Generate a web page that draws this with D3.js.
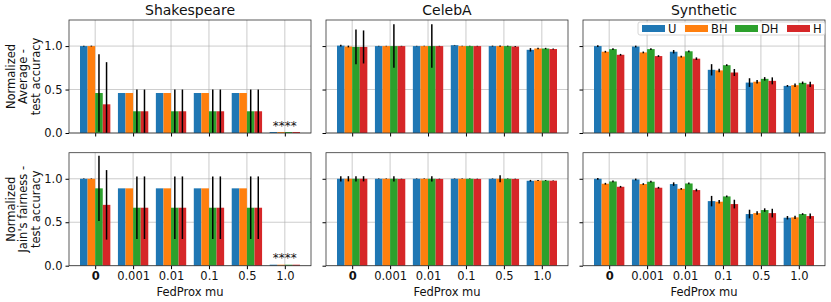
<!DOCTYPE html>
<html>
<head>
<meta charset="utf-8">
<script src="https://cdn.jsdelivr.net/npm/d3@7"></script>
<style>
  body { margin: 0; background: #fff; }
  text { font-family: "DejaVu Sans", sans-serif; fill: #111; }
</style>
</head>
<body>
<div class="chart"></div>
<script>
// categories and series
var mus = ["0", "0.001", "0.01", "0.1", "0.5", "1.0"];
var methods = ["U", "BH", "DH", "H"];
var colors = ["#1f77b4", "#ff7f0e", "#2ca02c", "#d62728"];
var datasets = ["Shakespeare", "CelebA", "Synthetic"];
var metrics = [["Normalized", "Average -", "test accuracy"], ["Normalized", "Jain's fairness -", "test accuracy"]];
var yTicks = [0, 0.5, 1.0];

// values[method][mu], errors[method][mu]
var shakAvg = [[1.0, 0.46, 0.46, 0.46, 0.46, 0], [1.0, 0.46, 0.46, 0.46, 0.46, 0], [0.46, 0.25, 0.25, 0.25, 0.25, 0], [0.33, 0.25, 0.25, 0.25, 0.25, 0]];
var shakAvgErr = [[0.005, 0, 0, 0, 0, 0], [0.005, 0, 0, 0, 0, 0], [0.445, 0.25, 0.25, 0.25, 0.25, 0], [0.485, 0.25, 0.25, 0.25, 0.25, 0]];
var shakJain = [[1.0, 0.89, 0.89, 0.89, 0.89, 0], [1.0, 0.89, 0.89, 0.89, 0.89, 0], [0.89, 0.667, 0.667, 0.667, 0.667, 0], [0.70, 0.667, 0.667, 0.667, 0.667, 0]];
var shakJainErr = [[0.003, 0, 0, 0, 0, 0], [0.003, 0, 0, 0, 0, 0], [0.375, 0.36, 0.36, 0.36, 0.36, 0], [0.40, 0.36, 0.36, 0.36, 0.36, 0]];

var celebAvg = [[1.005, 1.0, 1.0, 1.01, 1.0, 0.957], [0.995, 1.0, 1.0, 1.0, 1.0, 0.972], [0.99, 1.0, 1.0, 1.0, 1.0, 0.972], [0.99, 1.0, 1.0, 1.0, 0.995, 0.966]];
var celebAvgErr = [[0.01, 0.003, 0.003, 0.003, 0.005, 0.02], [0.01, 0.003, 0.003, 0.003, 0.008, 0.008], [0.2, 0.25, 0.25, 0.003, 0.005, 0.008], [0.19, 0.003, 0.003, 0.003, 0.005, 0.005]];
var celebJain = [[1.0, 1.0, 1.0, 1.0, 1.0, 0.977], [1.0, 1.0, 1.0, 1.0, 1.0, 0.98], [1.0, 1.0, 1.0, 1.0, 1.0, 0.98], [1.0, 0.998, 0.998, 0.998, 0.998, 0.978]];
var celebJainErr = [[0.03, 0.003, 0.003, 0.003, 0.003, 0.01], [0.03, 0.003, 0.003, 0.003, 0.04, 0.005], [0.03, 0.03, 0.03, 0.003, 0.003, 0.005], [0.03, 0.003, 0.003, 0.003, 0.003, 0.003]];

var synAvg = [[1.0, 0.995, 0.935, 0.727, 0.58, 0.542], [0.935, 0.927, 0.88, 0.72, 0.59, 0.55], [0.965, 0.965, 0.94, 0.78, 0.623, 0.577], [0.90, 0.885, 0.855, 0.696, 0.60, 0.56]];
var synAvgErr = [[0.01, 0.01, 0.02, 0.065, 0.05, 0.01], [0.01, 0.01, 0.01, 0.02, 0.02, 0.02], [0.01, 0.01, 0.01, 0.01, 0.02, 0.015], [0.01, 0.01, 0.015, 0.04, 0.04, 0.03]];
var synJain = [[1.0, 0.992, 0.939, 0.743, 0.594, 0.552], [0.943, 0.939, 0.885, 0.736, 0.605, 0.556], [0.969, 0.966, 0.946, 0.797, 0.64, 0.594], [0.908, 0.897, 0.87, 0.709, 0.605, 0.571]];
var synJainErr = [[0.01, 0.01, 0.02, 0.06, 0.05, 0.02], [0.01, 0.01, 0.01, 0.02, 0.02, 0.02], [0.01, 0.01, 0.01, 0.01, 0.02, 0.01], [0.01, 0.01, 0.015, 0.05, 0.05, 0.03]];

var panels = [
  [[shakAvg, shakAvgErr], [celebAvg, celebAvgErr], [synAvg, synAvgErr]],
  [[shakJain, shakJainErr], [celebJain, celebJainErr], [synJain, synJainErr]]
];

var svgWidth = 831, svgHeight = 302;
var panelLeft = [69, 326, 583];
var panelTop = [20, 152.7];
var pw = 242, ph = 113;

var svg = d3.select(".chart").append("svg")
  .attr("width", svgWidth)
  .attr("height", svgHeight);

var x = d3.scaleLinear().domain([-0.69, 5.69]).range([0, pw]);
var y = d3.scaleLinear().domain([0, 1.3]).range([ph, 0]);
var barW = 0.2;

panels.forEach(function(row, r) {
  row.forEach(function(cell, c) {
    var vals = cell[0], errs = cell[1];
    var g = svg.append("g")
      .attr("transform", "translate(" + panelLeft[c] + "," + panelTop[r] + ")");

    // grid
    g.selectAll(".vgrid").data(mus).enter().append("line")
      .attr("x1", function(d, i) { return x(i); })
      .attr("x2", function(d, i) { return x(i); })
      .attr("y1", 0).attr("y2", ph)
      .attr("stroke", "#b0b0b0").attr("stroke-width", 0.8).attr("opacity", 0.8);
    g.selectAll(".hgrid").data(yTicks).enter().append("line")
      .attr("x1", 0).attr("x2", pw)
      .attr("y1", function(d) { return y(d); })
      .attr("y2", function(d) { return y(d); })
      .attr("stroke", "#b0b0b0").attr("stroke-width", 0.8).attr("opacity", 0.8);

    // bars
    methods.forEach(function(m, k) {
      var off = (k - 1.5) * barW;
      g.selectAll(".bar" + k).data(vals[k]).enter().append("rect")
        .attr("x", function(d, i) { return x(i + off - barW / 2); })
        .attr("width", x(barW) - x(0))
        .attr("y", function(d) { return y(d); })
        .attr("height", function(d) { return Math.max(y(0) - y(d), d === 0 ? 1 : 0); })
        .attr("transform", function(d) { return d === 0 ? "translate(0,-1)" : null; })
        .attr("fill", colors[k]);
    });

    // error bars
    methods.forEach(function(m, k) {
      var off = (k - 1.5) * barW;
      g.selectAll(".err" + k).data(vals[k]).enter().append("line")
        .filter(function(d, i) { return errs[k][i] > 0; })
        .attr("x1", function(d, i) { return x(i + off); })
        .attr("x2", function(d, i) { return x(i + off); })
        .attr("y1", function(d, i) { return y(Math.max(0, d - errs[k][i])); })
        .attr("y2", function(d, i) { return y(Math.min(1.3, d + errs[k][i])); })
        .attr("stroke", "#000").attr("stroke-width", 1.5);
    });

    if (c === 0) {
      g.append("text")
        .attr("x", x(5)).attr("y", y(0) - 3.5)
        .attr("text-anchor", "middle")
        .attr("font-size", 12)
        .text("****");
    }

    // axes
    var xAxis = d3.axisBottom(x).tickValues(d3.range(6)).tickSize(3.5).tickPadding(3)
      .tickFormat(function(d) { return r === 1 ? mus[d] : ""; });
    var xg = g.append("g").attr("transform", "translate(0," + ph + ")").call(xAxis);
    xg.select(".domain").remove();
    xg.selectAll("text").attr("font-size", 11.5).attr("font-family", "DejaVu Sans")
      .attr("font-weight", function(d) { return d === 0 ? "bold" : "normal"; });

    var yAxis = d3.axisLeft(y).tickValues(yTicks).tickSize(3.5).tickPadding(3)
      .tickFormat(function(d) { return c === 0 ? d3.format(".1f")(d) : ""; });
    var yg = g.append("g").call(yAxis);
    yg.select(".domain").remove();
    yg.selectAll("text").attr("font-size", 11.5).attr("font-family", "DejaVu Sans");

    g.append("rect")
      .attr("width", pw).attr("height", ph)
      .attr("fill", "none").attr("stroke", "#333").attr("stroke-width", 0.8);

    if (r === 0) {
      g.append("text")
        .attr("x", pw / 2).attr("y", -5)
        .attr("text-anchor", "middle")
        .attr("font-size", 14)
        .text(datasets[c]);
    } else {
      g.append("text")
        .attr("x", pw / 2).attr("y", ph + 30)
        .attr("text-anchor", "middle")
        .attr("font-size", 11.5)
        .text("FedProx mu");
    }

    if (c === 0) {
      var lab = g.append("text")
        .attr("transform", "translate(" + (-54) + "," + (ph / 2) + ") rotate(-90)")
        .attr("text-anchor", "middle")
        .attr("font-size", 11.5);
      metrics[r].forEach(function(line, li) {
        lab.append("tspan").attr("x", 0).attr("dy", li === 0 ? 0 : 12.3).text(line);
      });
    }

    // legend on top-right panel
    if (r === 0 && c === 2) {
      var lg = g.append("g").attr("transform", "translate(" + (638 - panelLeft[2]) + ",2)");
      lg.append("rect").attr("width", 187).attr("height", 13).attr("rx", 2)
        .attr("fill", "#fff").attr("fill-opacity", 0.85)
        .attr("stroke", "#ccc").attr("stroke-width", 0.8);
      var lx = [4, 47, 97, 149];
      methods.forEach(function(m, k) {
        lg.append("rect").attr("x", lx[k]).attr("y", 3).attr("width", 23).attr("height", 7)
          .attr("fill", colors[k]);
        lg.append("text").attr("x", lx[k] + 26).attr("y", 10.5)
          .attr("font-size", 11.5).text(m);
      });
    }
  });
});
</script>
</body>
</html>
